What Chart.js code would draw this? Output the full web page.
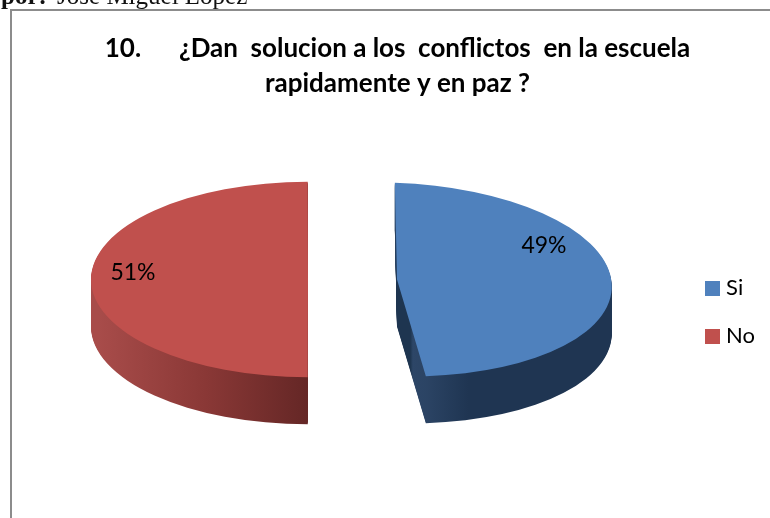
<!DOCTYPE html>
<html><head><meta charset="utf-8">
<script src="https://cdn.jsdelivr.net/npm/chart.js@4/dist/chart.umd.min.js"></script>
<style>
html,body{margin:0;padding:0;background:#fff;overflow:hidden;width:770px;height:518px}
#c{position:absolute;left:0;top:0}
#frame{position:absolute;left:10px;top:9px;width:800px;height:600px;border:2px solid #8c8c8c;box-sizing:border-box;pointer-events:none}
#by{position:absolute;left:1px;top:-18px;font:25px "Liberation Serif";color:#111;white-space:pre}
#by b{font-weight:bold;margin-right:4px}
</style></head><body>
<canvas id="c" width="770" height="518"></canvas>
<div id="by"><b>por:</b> José Miguel López</div>
<div id="frame"></div>
<script>
const titleLines = ['10.      ¿Dan  solucion a los  conflictos  en la escuela', 'rapidamente y en paz ?'];
const categories = ['Si', 'No'];
const values = [49, 51];
const colors = ['#4f81bd', '#c0504d'];

const explode = 44.5, R = 210, cx = 352.5, cy = 279.5, depth = 47;
const view = [
  {shear: 0.0725, tilt: 0.452},
  {shear: 0, tilt: 0.45}
];
const labelAt = [{x: 544, y: 246}, {x: 133, y: 273}];

function squareIcon(color) {
  const s = document.createElement('canvas');
  s.width = 15; s.height = 15;
  const g = s.getContext('2d');
  g.fillStyle = color; g.fillRect(0, 0, 15, 15);
  return s;
}

// Colours run along x in the arc's own frame, whose origin is the slice apex.
function wallGradient(ctx, arc, i) {
  if (i === 0) {
    const g = ctx.createLinearGradient(arc.x, 0, arc.x + R, 0);
    g.addColorStop(0, '#1e3550');
    g.addColorStop(0.03, '#1e3550');
    g.addColorStop(0.035, '#2d4667');
    g.addColorStop(0.27, '#1f3552');
    g.addColorStop(1, '#1f3552');
    return g;
  }
  const g = ctx.createLinearGradient(arc.x - R, 0, arc.x + 4, 0);
  g.addColorStop(0, '#a84c4a');
  g.addColorStop(0.5, '#8a3836');
  g.addColorStop(1, '#632625');
  return g;
}

function place(ctx, arc, i, dy) {
  const v = view[i];
  ctx.setTransform(1, 0, 0, 1, 0, 0);
  ctx.translate(cx, cy + dy);
  ctx.transform(1, 0, v.shear, v.tilt, 0, 0);
  ctx.translate(-arc.x, -arc.y);
}

const tiltPlugin = {
  id: 'tilt',
  beforeDatasetsDraw(chart) {
    const ctx = chart.ctx;
    const arcs = chart.getDatasetMeta(0).data;
    arcs.forEach((arc, i) => {
      const wall = Object.create(arc);
      wall.options = Object.create(arc.options);
      for (let d = depth; d >= 1; d--) {
        ctx.save();
        place(ctx, arc, i, d);
        wall.options.backgroundColor = wallGradient(ctx, arc, i);
        wall.options.borderColor = 'transparent';
        wall.options.borderWidth = 0;
        arc.draw.call(wall, ctx);
        ctx.restore();
      }
    });
    arcs.forEach((arc, i) => {
      ctx.save();
      place(ctx, arc, i, 0);
      arc.draw(ctx);
      ctx.restore();
    });
    ctx.save();
    ctx.font = '23px Lato';
    ctx.fillStyle = '#000';
    ctx.textAlign = 'center';
    ctx.textBaseline = 'middle';
    arcs.forEach((arc, i) => {
      ctx.fillText(values[i] + '%', labelAt[i].x, labelAt[i].y);
    });
    ctx.restore();
    return false;
  }
};

new Chart(document.getElementById('c'), {
  type: 'pie',
  data: {
    labels: categories,
    datasets: [{
      data: values,
      backgroundColor: colors,
      borderWidth: 0,
      offset: explode * 4
    }]
  },
  options: {
    responsive: false,
    animation: false,
    rotation: 1.8,
    radius: R - explode + 7,
    layout: {padding: {left: 30, right: 5, top: 0, bottom: 0}},
    plugins: {
      tooltip: {enabled: false},
      title: {
        display: true,
        text: titleLines,
        color: '#000',
        font: {family: 'Lato', weight: 'bold', size: 26, lineHeight: 1.35},
        padding: {top: 31, bottom: 5}
      },
      legend: {
        position: 'right',
        fullSize: false,
        labels: {
          color: '#000',
          font: {family: 'Lato', size: 22},
          usePointStyle: true,
          boxWidth: 5,
          pointStyleWidth: 5,
          padding: 26,
          generateLabels(chart) {
            return categories.map((c, i) => ({
              text: c, fillStyle: colors[i], strokeStyle: colors[i], lineWidth: 0,
              pointStyle: squareIcon(colors[i]), index: i, hidden: false
            }));
          }
        }
      }
    }
  },
  plugins: [tiltPlugin]
});
</script>
</body></html>
